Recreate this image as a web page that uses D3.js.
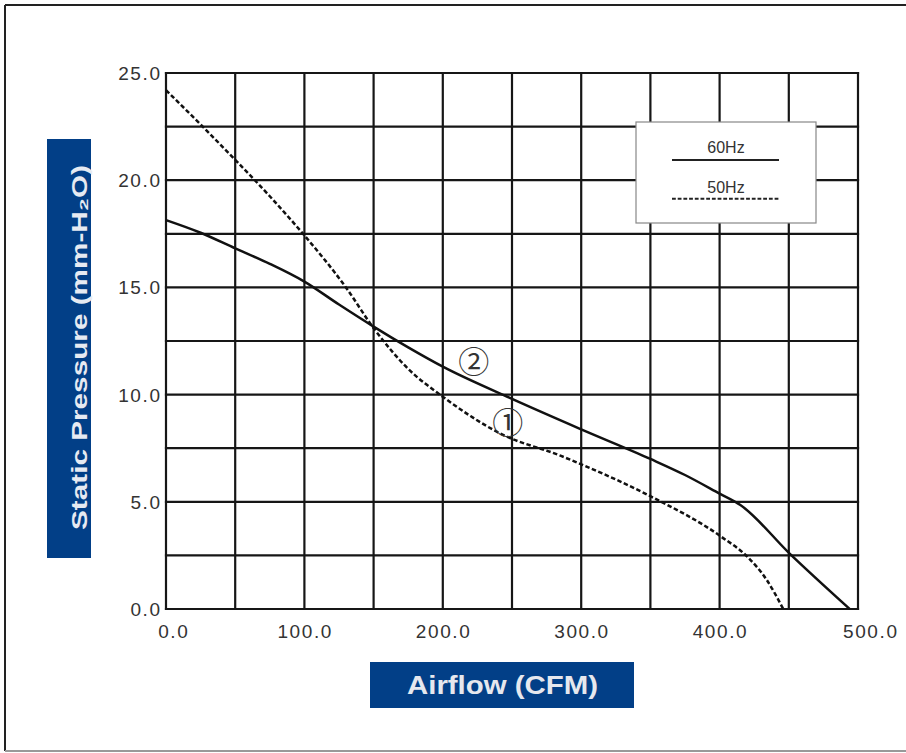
<!doctype html>
<html lang="en">
<head>
<meta charset="utf-8" />
<title>Static Pressure vs Airflow</title>
<script src="https://cdn.jsdelivr.net/npm/d3@7"></script>
<style>
    html, body { margin: 0; padding: 0; background: #fff; }
    svg { display: block; }
</style>
</head>
<body>
<div id="chart"></div>
<script>
// airflow (CFM) / static pressure (mm-H2O)
const flow60 = [0, 25, 50, 75, 100, 125, 150, 175, 200, 250, 300, 350, 375, 400, 415, 451, 494];
const pres60 = [18.14, 17.55, 16.82, 16.1, 15.27, 14.2, 13.17, 12.2, 11.3, 9.8, 8.38, 7.0, 6.25, 5.38, 4.85, 2.56, 0];

const flow50 = [0, 25, 50, 75, 99, 130, 150, 175, 200, 220, 241, 285, 300, 350, 401, 420, 434, 446];
const pres50 = [24.2, 22.6, 20.95, 19.25, 17.5, 15.0, 13.1, 11.2, 9.9, 9.0, 8.2, 7.15, 6.75, 5.26, 3.38, 2.44, 1.36, 0];

const xTicks = [0, 100, 200, 300, 400, 500];
const yTicks = [0, 5, 10, 15, 20, 25];
const legendLabels = ["60Hz", "50Hz"];

const width = 906, height = 753;
const plotL = 166, plotR = 858, plotT = 73, plotB = 609;
const blue = "#023f87";
const ls = 1.6;

const svg = d3.select("#chart").append("svg")
    .attr("width", width)
    .attr("height", height)
    .style("font-family", "'Liberation Sans', Arial, sans-serif");

// outer frame
svg.append("line").attr("x1", 5).attr("x2", width).attr("y1", 5).attr("y2", 5)
    .attr("stroke", "#222").attr("stroke-width", 2);
svg.append("line").attr("x1", 5).attr("x2", 5).attr("y1", 5).attr("y2", 751)
    .attr("stroke", "#222").attr("stroke-width", 2);
svg.append("line").attr("x1", 5).attr("x2", width).attr("y1", 751).attr("y2", 751)
    .attr("stroke", "#999").attr("stroke-width", 2);

const x = d3.scaleLinear().domain([0, 500]).range([plotL, plotR]);
const y = d3.scaleLinear().domain([0, 25]).range([plotB, plotT]);

// grid every 50 CFM and 2.5 mm
const grid = svg.append("g").attr("stroke", "#161616").attr("stroke-width", 2.2);
grid.selectAll("line.v")
    .data(d3.range(0, 501, 50))
    .join("line")
    .attr("class", "v")
    .attr("x1", d => x(d)).attr("x2", d => x(d))
    .attr("y1", y(0) + 1.1).attr("y2", y(25) - 1.1);
grid.selectAll("line.h")
    .data(d3.range(0, 25.01, 2.5))
    .join("line")
    .attr("class", "h")
    .attr("y1", d => y(d)).attr("y2", d => y(d))
    .attr("x1", x(0) - 1.1).attr("x2", x(500) + 1.1);

// tick labels
svg.append("g").selectAll("text")
    .data(yTicks)
    .join("text")
    .attr("x", plotL - 6 + ls)
    .attr("y", d => y(d) + 7)
    .attr("text-anchor", "end")
    .attr("font-size", 19)
    .attr("letter-spacing", ls)
    .attr("fill", "#333")
    .text(d => d.toFixed(1));

svg.append("g").selectAll("text")
    .data(xTicks)
    .join("text")
    .attr("x", d => x(d) + ls / 2 + (d === 0 ? 7 : d === 500 ? 12 : 0))
    .attr("y", plotB + 29)
    .attr("text-anchor", "middle")
    .attr("font-size", 19)
    .attr("letter-spacing", ls)
    .attr("fill", "#333")
    .text(d => d.toFixed(1));

// curves
const line = d3.line()
    .x(d => x(d[0]))
    .y(d => y(d[1]))
    .curve(d3.curveMonotoneX);

svg.append("path")
    .datum(d3.zip(flow60, pres60))
    .attr("d", line)
    .attr("fill", "none")
    .attr("stroke", "#111")
    .attr("stroke-width", 2.5);

svg.append("path")
    .datum(d3.zip(flow50, pres50))
    .attr("d", line)
    .attr("fill", "none")
    .attr("stroke", "#111")
    .attr("stroke-width", 2.5)
    .attr("stroke-dasharray", "4.5,2.5");

// circled curve markers
const marks = svg.append("g")
    .attr("font-size", 31)
    .attr("fill", "#333")
    .attr("text-anchor", "middle")
    .attr("dominant-baseline", "central")
    .style("font-family", "'Noto Sans CJK JP', 'DejaVu Sans', sans-serif");
marks.append("text").attr("x", x(222.3)).attr("y", y(11.62)).text("\u2461");
marks.append("text").attr("x", x(246.9)).attr("y", y(8.8)).text("\u2460");

// legend
const lg = svg.append("g");
lg.append("rect")
    .attr("x", 636).attr("y", 122)
    .attr("width", 180).attr("height", 101)
    .attr("fill", "#fff")
    .attr("stroke", "#888")
    .attr("stroke-width", 1.2);
lg.selectAll("text")
    .data(legendLabels)
    .join("text")
    .attr("x", 726)
    .attr("y", (d, i) => 153 + i * 39.5)
    .attr("text-anchor", "middle")
    .attr("font-size", 16)
    .attr("fill", "#333")
    .text(d => d);
lg.selectAll("line")
    .data(legendLabels)
    .join("line")
    .attr("x1", 672).attr("x2", 779)
    .attr("y1", (d, i) => 160 + i * 38.7)
    .attr("y2", (d, i) => 160 + i * 38.7)
    .attr("stroke", "#222")
    .attr("stroke-width", 2)
    .attr("stroke-dasharray", (d, i) => i ? "3.8,1.9" : null);

// axis title boxes
svg.append("rect")
    .attr("x", 47).attr("y", 139)
    .attr("width", 44).attr("height", 419)
    .attr("fill", blue);
svg.append("text")
    .attr("transform", "translate(86.5,165) rotate(-90)")
    .attr("x", -365)
    .attr("textLength", 365)
    .attr("lengthAdjust", "spacingAndGlyphs")
    .attr("font-size", 22)
    .attr("font-weight", "bold")
    .attr("fill", "#e6eaf2")
    .text("Static Pressure (mm-H\u2082O)");

svg.append("rect")
    .attr("x", 370).attr("y", 662)
    .attr("width", 264).attr("height", 46)
    .attr("fill", blue);
svg.append("text")
    .attr("x", 407).attr("y", 693.5)
    .attr("textLength", 191)
    .attr("lengthAdjust", "spacingAndGlyphs")
    .attr("font-size", 25)
    .attr("font-weight", "bold")
    .attr("fill", "#e6e8ee")
    .text("Airflow (CFM)");
</script>
</body>
</html>
